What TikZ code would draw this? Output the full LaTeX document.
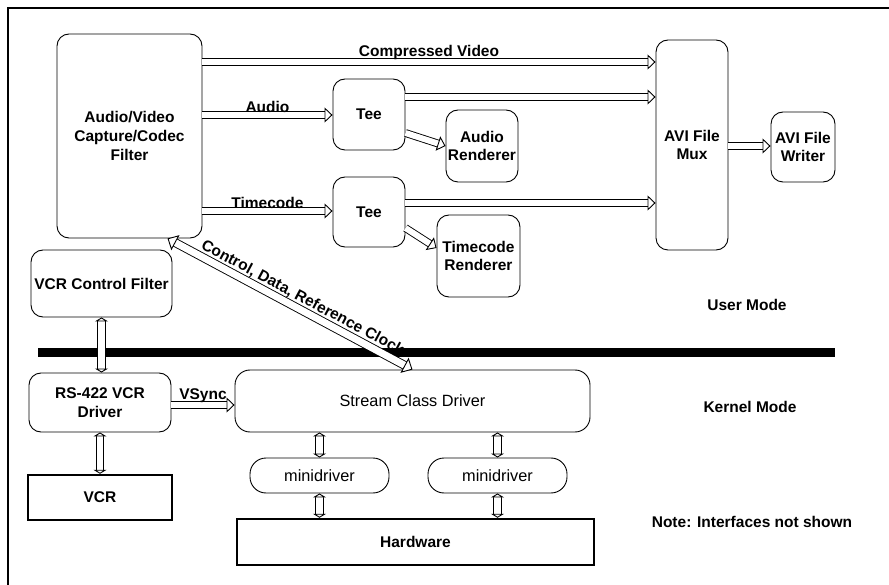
\documentclass[tikz,border=0pt]{standalone}
\usepackage{fontspec}
\setmainfont{Liberation Sans}
\usetikzlibrary{arrows.meta,decorations.markings,calc}
\newcommand\dgfont{\fontsize{15.5}{18.7}\selectfont}
\newcommand\dgfontr{\fontsize{16.3}{19}\selectfont}
\tikzset{
  box/.style={draw, line width=0.9pt, rounded corners=12pt, align=center, inner sep=0pt, font=\bfseries\dgfont},
  rbox/.style={box, font=\dgfontr},
  pill/.style={box, rounded corners=16pt, font=\dgfontr},
  sharpbox/.style={draw, line width=2.4pt, align=center, inner sep=0pt, font=\bfseries\dgfont},
  lbl/.style={font=\bfseries\dgfont, inner sep=1pt},
  shaft/.style={draw=black, line width=0.9pt, double=white, double distance=#1},
  shaft/.default=6pt,
  headend/.style={postaction={decorate, decoration={markings, mark=at position 1 with {\pgfsetinnerlinewidth{0pt}\arrow{Triangle[#1, fill=white, line width=0.9pt]}}}}},
  headstart/.style={postaction={decorate, decoration={markings, mark=at position 0 with {\pgfsetinnerlinewidth{0pt}\arrowreversed{Triangle[#1, fill=white, line width=0.9pt]}}}}},
  fat/.style={shaft, shorten >=5pt, headend={length=8pt, width=15pt}},
  fatboth/.style={shaft=7pt, shorten >=6pt, shorten <=6pt, headend={length=9pt, width=17pt}, headstart={length=9pt, width=17pt}},
  smallboth/.style={shaft=6.5pt, shorten >=3pt, shorten <=3pt, headend={length=4pt, width=13pt}, headstart={length=4pt, width=13pt}},
}
\begin{document}
\begin{tikzpicture}[x=1pt,y=-1pt]
\useasboundingbox (0,0) rectangle (889,585);
% frame
\draw[line width=1.4pt] (8,585) -- (8,8) -- (889,8);
% user/kernel separator
\fill (38,348) rectangle (835,357);

% nodes
\node[box, minimum width=145pt, minimum height=204pt] (av) at (129.5,136) {Audio/Video\\Capture/Codec\\Filter};
\node[box, minimum width=72pt, minimum height=71pt] (tee1) at (369,114.5) {Tee};
\node[box, minimum width=72pt, minimum height=70pt] (tee2) at (369,212) {Tee};
\node[box, minimum width=72pt, minimum height=72pt] (arend) at (482,146) {Audio\\Renderer};
\node[box, minimum width=83pt, minimum height=82pt] (trend) at (478.5,256) {Timecode\\Renderer};
\node[box, minimum width=72pt, minimum height=210pt] (mux) at (692,145) {AVI File\\Mux};
\node[box, minimum width=64pt, minimum height=70pt] (writer) at (803,147) {AVI File\\Writer};
\node[box, minimum width=141pt, minimum height=67pt] (vcf) at (101.5,283.5) {VCR Control Filter};
\node[box, minimum width=142pt, minimum height=59pt] (rs) at (100,402.5) {RS-422 VCR\\Driver};
\node[sharpbox, minimum width=144pt, minimum height=45pt] (vcr) at (100,497.5) {VCR};
\node[rbox, rounded corners=15pt, minimum width=355pt, minimum height=62pt] (scd) at (412.5,401) {Stream Class Driver};
\node[pill, minimum width=139pt, minimum height=35pt] (md1) at (319.5,475.5) {minidriver};
\node[pill, minimum width=139pt, minimum height=35pt] (md2) at (497.5,475.5) {minidriver};
\node[sharpbox, minimum width=357pt, minimum height=46pt] (hw) at (415.5,542) {Hardware};

\node[lbl] (um) at (747,305) {User Mode};
\node[lbl] (km) at (750,407) {Kernel Mode};
\node[lbl] (note) at (752,522) {Note: Interfaces not shown};

% connectors
\draw[fat] (av.east |- 0,62) -- node[lbl, above=1pt] {Compressed Video} (mux.west |- 0,62);
\draw[fat] (tee1.east |- 0,97) -- (mux.west |- 0,97);
\draw[fat] (av.east |- 0,115) -- node[lbl, above=1pt] {Audio} (tee1.west |- 0,115);
\draw[fat] (tee1.east |- 0,133) -- (arend.west);
\draw[fat] (av.east |- 0,211) -- node[lbl, above=1pt] {Timecode} (tee2.west |- 0,211);
\draw[fat] (tee2.east |- 0,203) -- (mux.west |- 0,203);
\draw[fat] (tee2.east |- 0,228) -- (trend.west |- 0,248);
\draw[fat] (mux.east |- 0,146) -- (writer.west |- 0,146);
\draw[fat] (rs.east |- 0,405) -- node[lbl, above=1pt] {VSync} (scd.west |- 0,405);
\draw[fatboth] ([xshift=38pt]av.south) -- node[lbl, pos=0.53, above=3pt, sloped] {Control, Data, Reference Clock} (scd.north);
\draw[smallboth] (vcf.south) -- (vcf.south |- rs.north);
\draw[smallboth] (rs.south) -- (vcr.north);
\draw[smallboth] (scd.south -| md1.north) -- (md1.north);
\draw[smallboth] (md1.south) -- (md1.south |- hw.north);
\draw[smallboth] (scd.south -| md2.north) -- (md2.north);
\draw[smallboth] (md2.south) -- (md2.south |- hw.north);
\end{tikzpicture}
\end{document}
